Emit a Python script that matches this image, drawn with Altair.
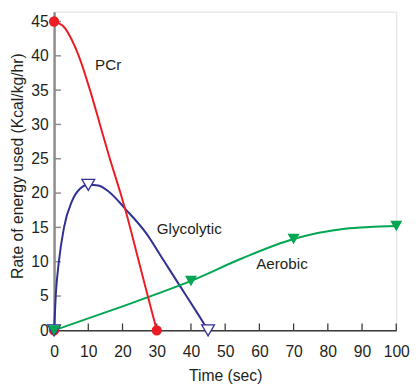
import altair as alt
import pandas as pd

# ---- data ----
pcr_x = [0, 2.9, 5.2, 7.2, 10.5, 13.4, 16.3, 19.4, 20.8, 25.5, 30]
pcr_y = [45, 44.2, 42.3, 40, 35, 30, 25, 20, 17.6, 8.6, 0]

gly_x = [0, 0.5, 1.4, 2.9, 5.2, 7.5, 10, 12.9, 16, 21, 27, 32, 37, 41.5, 45]
gly_y = [0, 5.2, 10, 15, 18.8, 20.6, 21.2, 21.1, 20.2, 17.6, 14.1, 10.2, 6.3, 2.8, 0]

aer_x = [0, 20, 40, 55, 70, 85, 100]
aer_y = [0, 3.5, 7.2, 10.5, 13.3, 14.8, 15.2]

pcr_mx = [0, 0, 30]
pcr_my = [0, 45, 0]
gly_mx = [0, 10, 45]
gly_my = [0, 21.2, 0]
aer_mx = [0, 40, 70, 100]
aer_my = [0, 7.2, 13.3, 15.2]

lab_text = ["PCr", "Glycolytic", "Aerobic"]
lab_x = [15.8, 39.5, 66.6]
lab_y = [38.7, 14.7, 9.6]

x_ticks = [0, 10, 20, 30, 40, 50, 60, 70, 80, 90, 100]
y_ticks = [0, 5, 10, 15, 20, 25, 30, 35, 40, 45]

RED = "#ec1c24"
BLUE = "#2e3192"
GREEN = "#00a651"
TXT = "#231f20"
FONT = "Liberation Sans"

W, H = 349, 325
xs = alt.Scale(domain=[0, 100], nice=False, zero=False)
ys = alt.Scale(domain=[0, H / 7.0], nice=False, zero=False)

xaxis = alt.Axis(values=x_ticks, grid=False, ticks=False, tickSize=0,
                 labelFontSize=16, labelPadding=14, labelFlush=False,
                 labelOverlap=False, labelColor=TXT, labelFont=FONT,
                 domainColor="#3a3a3a", domainWidth=1.5,
                 title="Time (sec)", titleFontSize=16, titleFontWeight="normal",
                 titleFont=FONT, titleColor=TXT, titleY=51,
                 titleBaseline="alphabetic")
yaxis = alt.Axis(values=y_ticks, grid=False, ticks=False, tickSize=0,
                 labelFontSize=16, labelPadding=6, labelColor=TXT,
                 labelFont=FONT, labelOverlap=False,
                 domainColor="#8c8c8c", domainWidth=2.5,
                 title="Rate of energy used (Kcal/kg/hr)", titleFontSize=16,
                 titleFontWeight="normal", titleFont=FONT, titleColor=TXT,
                 titleAngle=270, titleX=-37, titleY=157,
                 titleAlign="center", titleBaseline="middle")


def X(f="x"):
    return alt.X(f + ":Q", scale=xs, axis=xaxis)


def Y(f="y"):
    return alt.Y(f + ":Q", scale=ys, axis=yaxis)


def df(x, y):
    return pd.DataFrame({"x": x, "y": y})


def line(x, y, color):
    return alt.Chart(df(x, y)).mark_line(
        color=color, strokeWidth=2, interpolate="monotone"
    ).encode(x=X(), y=Y())


gly_line = line(gly_x, gly_y, BLUE)
aer_line = line(aer_x, aer_y, GREEN)
pcr_line = line(pcr_x, pcr_y, RED)

pcr_pts = alt.Chart(df(pcr_mx, pcr_my)).mark_point(
    shape="circle", filled=True, color=RED, size=110, opacity=1
).encode(x=X(), y=Y())

gly_pts = alt.Chart(df(gly_mx, gly_my)).mark_point(
    shape="triangle-down", filled=True, fill="white", stroke=BLUE,
    strokeWidth=1.3, size=170, opacity=1
).encode(x=X(), y=Y())

aer_pts = alt.Chart(df(aer_mx, aer_my)).mark_point(
    shape="triangle-down", filled=True, color=GREEN, size=150, opacity=1
).encode(x=X(), y=Y())

ytick_rules = alt.Chart(pd.DataFrame({"v": y_ticks[1:]})).mark_rule(
    color="#8c8c8c", strokeWidth=1.5
).encode(y=Y("v"), x=alt.value(0), x2=alt.value(7))

xtick_rules = alt.Chart(pd.DataFrame({"v": x_ticks[1:]})).mark_rule(
    color="#3a3a3a", strokeWidth=1.3
).encode(x=X("v"), y=alt.value(H - 7), y2=alt.value(H))

labels = alt.Chart(pd.DataFrame({"x": lab_x, "y": lab_y, "t": lab_text})).mark_text(
    fontSize=15.5, font=FONT, color=TXT, align="center", baseline="middle"
).encode(x=X(), y=Y(), text="t:N")

chart = alt.layer(
    ytick_rules, xtick_rules, gly_line, aer_line, pcr_line,
    pcr_pts, gly_pts, aer_pts, labels
).properties(
    width=W, height=H,
    padding={"left": 47, "top": 0, "right": 14, "bottom": 53},
    autosize=alt.AutoSizeParams(type="none"),
).configure_view(stroke=None).configure(background="white")

chart.save("out.html", embed_options={"renderer": "svg", "actions": False})
